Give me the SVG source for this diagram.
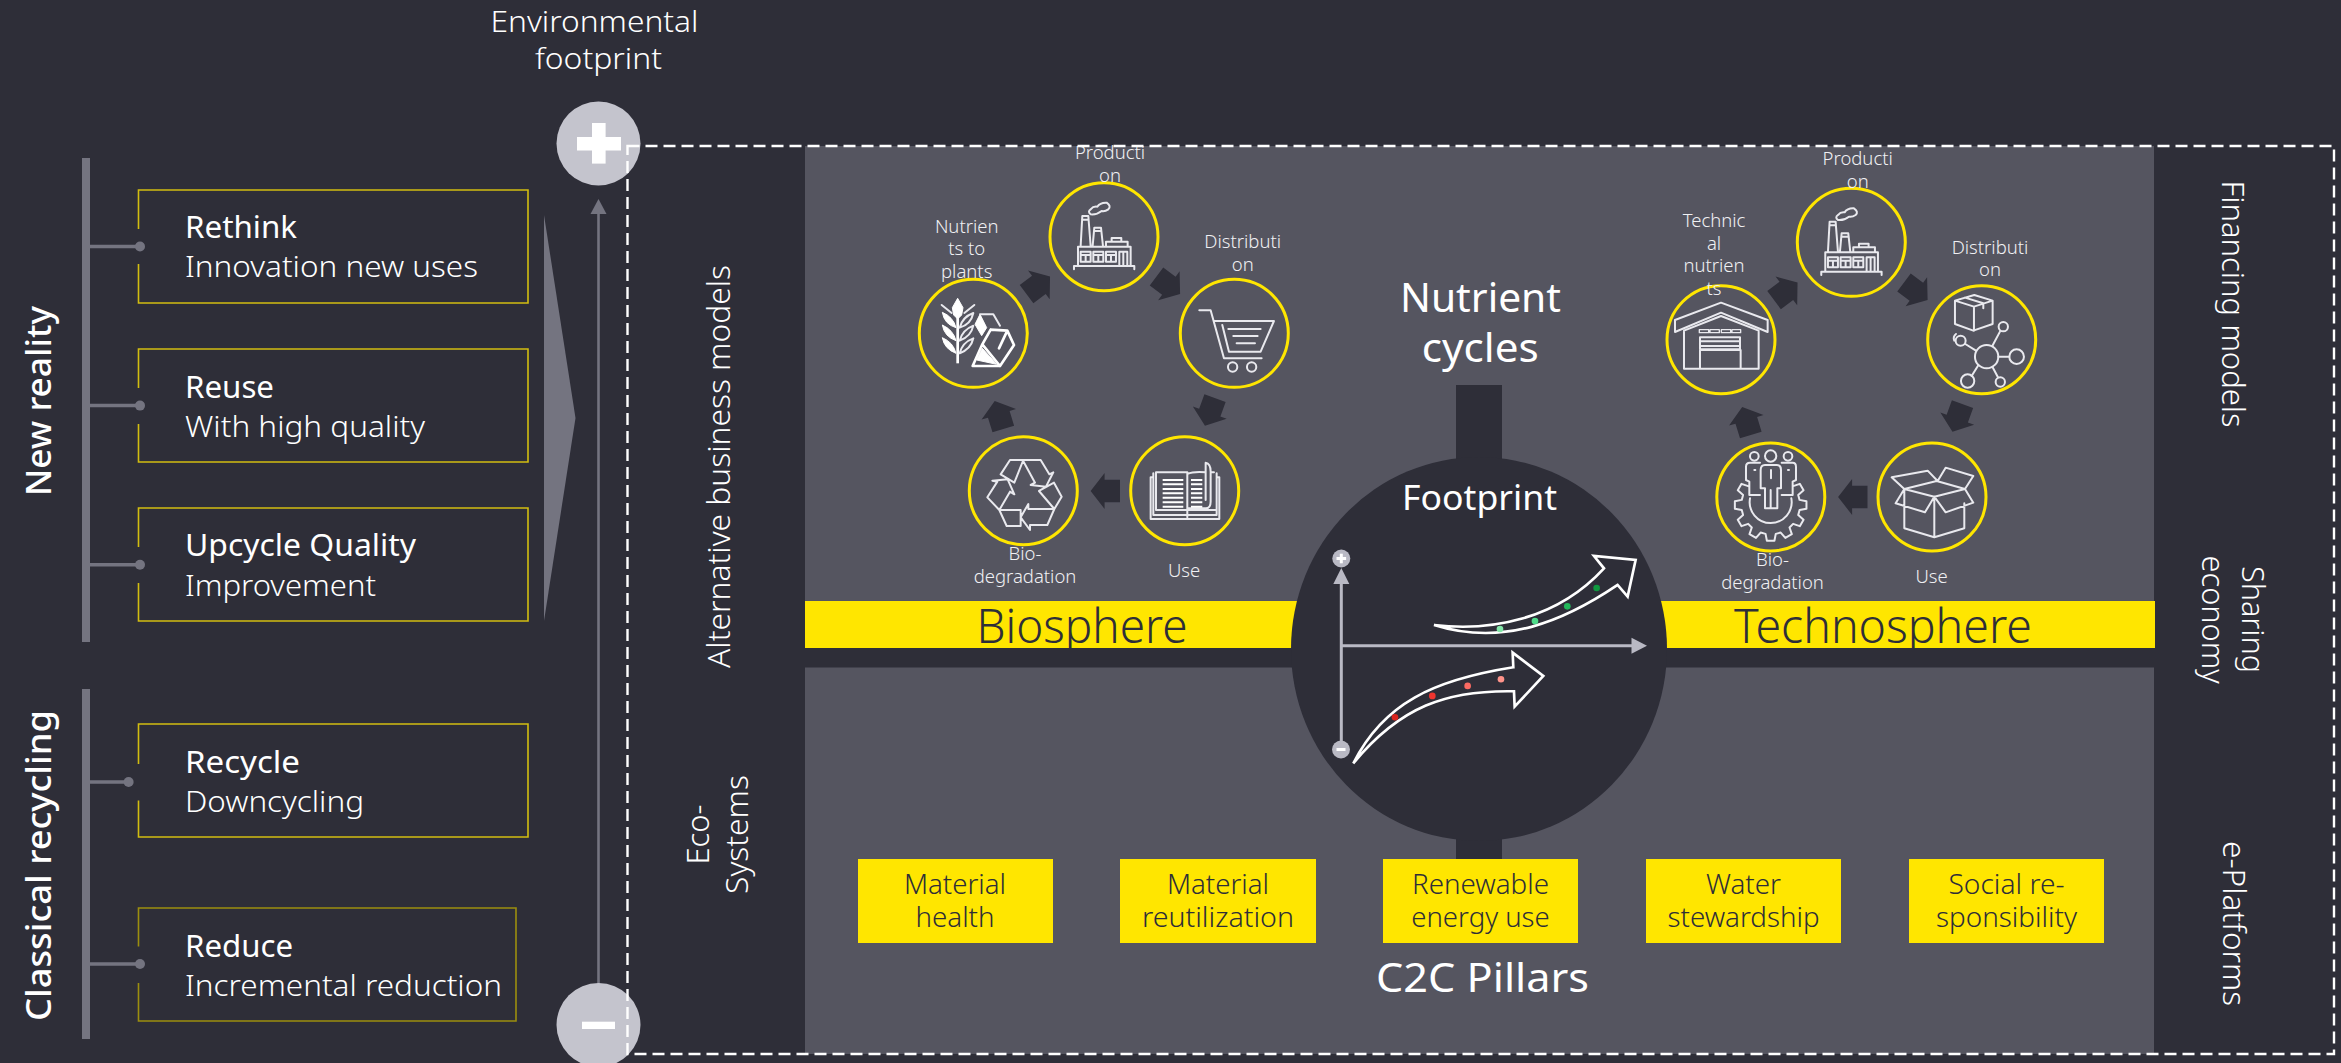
<svg xmlns="http://www.w3.org/2000/svg" xmlns:xlink="http://www.w3.org/1999/xlink" width="2341" height="1063" viewBox="0 0 2341 1063">
<style>
text{font-family:"Noto Sans","Open Sans","DejaVu Sans",sans-serif;fill:#fff}
.l{font-size:30px;font-weight:300}
.m{font-size:30px;font-weight:400}
.c{font-size:18.5px;fill:#f0f0f3;text-anchor:middle;font-weight:300}
.p{font-size:27px;fill:#2e2e38;text-anchor:middle;font-weight:300}
.r{font-size:32px;font-weight:300}
.side{font-size:35px;font-weight:500}
.h{font-weight:400}
.box{fill:none;stroke:#d2bd10;stroke-width:1.6}
.ring{fill:none;stroke:#ffe600;stroke-width:3}
.ic{fill:none;stroke:#e9e9ee;stroke-width:6;stroke-linejoin:round;stroke-linecap:round}
.icf{fill:#fff;stroke:#fff;stroke-width:3}
.bar{fill:#747480}
.branch{stroke:#747480;stroke-width:3.5}
.cy{fill:#2e2e38}
.ax{stroke:#b9b9c4;stroke-width:3;fill:none}
.axh{fill:#b9b9c4}
.trend{fill:none;stroke:#fff;stroke-width:8;stroke-linejoin:miter}
</style>
<defs>
<polygon id="ca" points="-14.7,0 -0.7,-18 -0.7,-11.3 14.7,-11.3 14.7,11.3 -0.7,11.3 -0.7,18"/>
<g id="factory" class="ic">
<path d="M602,348 L607,258 H625 L632,348 M606,269 H626 M638,348 L643,293 H663 L669,348 M643,303 H663 M678,348 V335 H743 V348 M695,335 V324 H724 V335 M594,408 V350 H752 V408 M602,395 V365 H632 V395 H602 M602,375 H632 M617,375 V395 M640,395 V365 H670 V395 H640 M640,375 H670 M655,375 V395 M678,395 V365 H708 V395 H678 M678,375 H708 M693,375 V395 M718,405 V365 H742 V405 M730,365 V405 M582,418 V408 H763 V418"/>
<path d="M632,253 Q622,245 632,238 Q640,228 652,230 Q660,217 680,218 Q695,228 685,238 Q675,245 665,243 Q650,255 632,253Z"/>
</g>
</defs>
<rect width="2341" height="1063" fill="#2e2e38"/>

<g id="panels">
<rect x="805" y="146" width="1349" height="502" fill="#555560"/>
<rect x="805" y="667.5" width="1349" height="386.5" fill="#555560"/>
</g>
<g id="band-biosphere"><rect x="805" y="601" width="500" height="47" fill="#ffe600"/><text x="976.5" y="643" font-size="48" style="fill:#2e2e38;font-weight:300" textLength="211" lengthAdjust="spacingAndGlyphs">Biosphere</text></g>
<g id="band-technosphere"><rect x="1650" y="601" width="505" height="47" fill="#ffe600"/><text x="1734" y="643" font-size="48" style="fill:#2e2e38;font-weight:300" textLength="298" lengthAdjust="spacingAndGlyphs">Technosphere</text></g>

<g id="footprint">
<rect x="1456" y="385" width="46" height="100" fill="#2e2e38"/>
<rect x="1456" y="800" width="46" height="59" fill="#2e2e38"/>
<ellipse cx="1479" cy="649" rx="188" ry="192" fill="#2e2e38"/>
<text class="h" x="1402" y="510" font-size="35" textLength="155" lengthAdjust="spacingAndGlyphs">Footprint</text>
<path class="ax" d="M1341.3,583 V741 M1341.3,645.7 H1632"/>
<polygon class="axh" points="1341.3,568 1349.3,584 1333.3,584"/>
<polygon class="axh" points="1647,645.7 1631.5,637.7 1631.5,653.7"/>
<circle class="axh" cx="1341.3" cy="558.5" r="9"/>
<rect x="1336.5" y="557" width="9.6" height="3" fill="#fff"/><rect x="1339.8" y="553.7" width="3" height="9.6" fill="#fff"/>
<circle class="axh" cx="1341" cy="749.5" r="9"/>
<rect x="1336.5" y="748" width="9" height="3" fill="#fff"/>
<g transform="translate(1270,260) scale(.3333)">
<path class="trend" d="M492,1095 C660,1115 860,1080 1002,925 L972,888 L1097,900 L1073,1010 L1043,975 C880,1085 700,1160 492,1095 Z"/>
<path class="trend" d="M250,1510 C340,1330 490,1260 730,1222 L728,1178 L820,1248 L734,1340 L732,1294 C530,1290 390,1340 250,1510 Z"/>
<circle cx="690" cy="1107" r="10" fill="#83e8a9"/><circle cx="795" cy="1083" r="10" fill="#4fdc8a"/><circle cx="892" cy="1039" r="10" fill="#23b85a"/><circle cx="980" cy="984" r="10" fill="#10993f"/>
<circle cx="375" cy="1372" r="10" fill="#d9241e"/><circle cx="487" cy="1308" r="10" fill="#f0352f"/><circle cx="593" cy="1278" r="10" fill="#fa6a62"/><circle cx="693" cy="1258" r="10" fill="#ff938a"/>
</g>
</g>

<g id="connectors">
<path class="branch" d="M90,246.5 H136 M90,405.6 H136 M90,564.7 H136 M90,782 H124 M90,964 H136"/>
<circle class="bar" cx="140" cy="246.5" r="5"/><circle class="bar" cx="140" cy="405.6" r="5"/><circle class="bar" cx="140" cy="564.7" r="5"/><circle class="bar" cx="128.6" cy="782" r="5"/><circle class="bar" cx="140" cy="964" r="5"/>
<path d="M598.5,210 V990" stroke="#747480" stroke-width="2.6"/>
<polygon class="bar" points="598.5,199 606.5,214 590.5,214"/>
<polygon class="bar" points="544,215 575.5,418 544,621"/>
<g class="cy">
<use xlink:href="#ca" href="#ca" transform="translate(1105.3,491)"/>
<use xlink:href="#ca" href="#ca" transform="translate(999,415) rotate(73)"/>
<use xlink:href="#ca" href="#ca" transform="translate(1038.3,285.3) rotate(143)"/>
<use xlink:href="#ca" href="#ca" transform="translate(1168.3,285.3) rotate(-143.4)"/>
<use xlink:href="#ca" href="#ca" transform="translate(1210,412) rotate(-70)"/>
<use xlink:href="#ca" href="#ca" transform="translate(1852.8,497)"/>
<use xlink:href="#ca" href="#ca" transform="translate(1746.5,421) rotate(73)"/>
<use xlink:href="#ca" href="#ca" transform="translate(1785.8,291.3) rotate(143)"/>
<use xlink:href="#ca" href="#ca" transform="translate(1915.8,291.3) rotate(-143.4)"/>
<use xlink:href="#ca" href="#ca" transform="translate(1957.5,418) rotate(-70)"/>
</g>
</g>

<g id="bar-new-reality"><rect class="bar" x="82" y="158" width="8" height="484"/><text class="side" transform="translate(51,496) rotate(-90)" textLength="190" lengthAdjust="spacingAndGlyphs">New reality</text></g>
<g id="bar-classical"><rect class="bar" x="82" y="689" width="8" height="350"/><text class="side" transform="translate(51,1021) rotate(-90)" textLength="311" lengthAdjust="spacingAndGlyphs">Classical recycling</text></g>

<g id="rethink"><path class="box" d="M138.5,229 V190 H528 V303 H138.5 V264"/><text class="m" x="185" y="238" textLength="112" lengthAdjust="spacingAndGlyphs">Rethink</text><text class="l" x="185" y="277" textLength="293" lengthAdjust="spacingAndGlyphs">Innovation new uses</text></g>
<g id="reuse"><path class="box" d="M138.5,388 V349 H528 V462 H138.5 V424"/><text class="m" x="185" y="397.7" textLength="89" lengthAdjust="spacingAndGlyphs">Reuse</text><text class="l" x="185" y="436.6" textLength="240" lengthAdjust="spacingAndGlyphs">With high quality</text></g>
<g id="upcycle"><path class="box" d="M138.5,547 V508 H528 V621 H138.5 V583"/><text class="m" x="185" y="556.4" textLength="231" lengthAdjust="spacingAndGlyphs">Upcycle Quality</text><text class="l" x="185" y="595.5" textLength="191" lengthAdjust="spacingAndGlyphs">Improvement</text></g>
<g id="recycle"><path class="box" d="M138.5,764 V724 H528 V837 H138.5 V800.5"/><text class="m" x="185" y="772.8" textLength="115" lengthAdjust="spacingAndGlyphs">Recycle</text><text class="l" x="185" y="812" textLength="179" lengthAdjust="spacingAndGlyphs">Downcycling</text></g>
<g id="reduce"><path class="box" style="stroke:#9c8e0e" d="M138.5,946.6 V908 H516 V1021 H138.5 V983"/><text class="m" x="185" y="957" textLength="108" lengthAdjust="spacingAndGlyphs">Reduce</text><text class="l" x="185" y="996" textLength="317" lengthAdjust="spacingAndGlyphs">Incremental reduction</text></g>

<g id="environmental-footprint"><text class="l" x="490.5" y="31.7" textLength="208" lengthAdjust="spacingAndGlyphs">Environmental</text><text class="l" x="535" y="69" textLength="127" lengthAdjust="spacingAndGlyphs">footprint</text></g>
<g id="plus"><circle cx="598.5" cy="143.5" r="42" fill="#c4c4cd"/><rect x="577" y="137" width="44" height="13.5" fill="#fff"/><rect x="592" y="123" width="13.6" height="40.6" fill="#fff"/></g>
<g id="minus"><circle cx="598.5" cy="1025" r="42" fill="#c4c4cd"/><rect x="582" y="1021.7" width="33" height="7.3" fill="#fff"/></g>

<g id="side-left"><text class="r" transform="translate(729.6,668) rotate(-90)" textLength="403" lengthAdjust="spacingAndGlyphs">Alternative business models</text>
<text class="r" transform="translate(709,864.5) rotate(-90)" textLength="60" lengthAdjust="spacingAndGlyphs">Eco-</text><text class="r" transform="translate(747.5,894) rotate(-90)" textLength="119" lengthAdjust="spacingAndGlyphs">Systems</text></g>
<g id="side-right"><text class="r" transform="translate(2221.7,180.6) rotate(90)" textLength="247" lengthAdjust="spacingAndGlyphs">Financing models</text>
<text class="r" transform="translate(2241.7,566) rotate(90)" textLength="107" lengthAdjust="spacingAndGlyphs">Sharing</text><text class="r" transform="translate(2202,555.6) rotate(90)" textLength="128" lengthAdjust="spacingAndGlyphs">economy</text>
<text class="r" transform="translate(2223,841) rotate(90)" textLength="165" lengthAdjust="spacingAndGlyphs">e-Platforms</text></g>

<g id="nutrient-cycles"><text class="h" x="1400" y="311.7" font-size="40" textLength="161" lengthAdjust="spacingAndGlyphs">Nutrient</text><text class="h" x="1421.7" y="361.7" font-size="40" textLength="117" lengthAdjust="spacingAndGlyphs">cycles</text></g>

<g id="bio-nutrients"><circle class="ring" cx="973.3" cy="333.3" r="54"/><text class="c" x="966.7" y="233.3">Nutrien</text><text class="c" x="966.7" y="255">ts to</text><text class="c" x="966.7" y="277.7">plants</text>
<g transform="translate(925,285) scale(.3333)">
<path d="M98,70 V235" stroke="#fff" stroke-width="8" fill="none"/>
<path class="icf" d="M98,40 L82,68 L86,90 L98,102 L110,90 L114,68Z M52,82 Q58,118 93,128 Q85,96 52,82Z M52,120 Q58,155 93,167 Q85,135 52,120Z M52,158 Q58,192 93,205 Q85,172 52,158Z"/>
<path class="ic" d="M50,60 L80,84 M148,60 L118,84 M145,84 Q138,118 104,128 Q112,96 145,84Z M145,122 Q138,155 104,167 Q112,135 145,122Z M145,160 Q138,192 104,205 Q112,172 145,160Z"/>
<path class="icf" d="M165,88 L150,118 L170,152 L185,128Z"/>
<path class="ic" d="M165,88 H205 L225,122"/>
<path class="ic" style="stroke-width:8;stroke:#fff" d="M143,243 L172,178 L197,134 L247,137 L267,180 L225,243Z M197,134 L172,178 L225,243 M247,137 L222,190"/>
<path class="icf" d="M155,225 L172,190 L215,238Z"/>
</g></g>
<g id="bio-production"><circle class="ring" cx="1104" cy="236.7" r="54"/><text class="c" x="1110" y="159.3">Producti</text><text class="c" x="1110" y="182.3">on</text>
<use xlink:href="#factory" href="#factory" transform="translate(880,130) scale(.3333)"/></g>
<g id="bio-distribution"><circle class="ring" cx="1234.3" cy="333.3" r="54"/><text class="c" x="1242.7" y="248.3">Distributi</text><text class="c" x="1242.7" y="271">on</text>
<g transform="translate(880,130) scale(.3333)"><path class="ic" d="M958,541 H992 L1032,685 H1145 M1002,573 H1182 L1142,665 H1047 L1027,585 M1045,597 H1142 M1060,618 H1133 M1070,640 H1125"/><circle class="ic" cx="1058" cy="711" r="14"/><circle class="ic" cx="1115" cy="711" r="14"/></g></g>
<g id="bio-use"><circle class="ring" cx="1184.7" cy="490.7" r="54"/><text class="c" x="1184" y="576.7">Use</text>
<g transform="translate(960,440) scale(.3333)"><path class="ic" d="M572,112 V237 H778 V112 H770 M572,112 H580 M580,100 V225 H770 V100 M590,210 H770 M588,210 V97 H682 V232 M682,102 Q700,94 737,97 M752,97 H762 M737,180 V68 Q752,70 752,95 V185 Q752,205 737,205 H682"/>
<path d="M608,120 H670 M608,133 H670 M608,147 H670 M608,160 H670 M608,173 H670 M608,187 H670 M608,200 H670 M693,120 H727 M693,133 H727 M693,147 H727 M693,160 H727 M693,173 H727 M693,187 H727 M693,200 H727" stroke="#fff" stroke-width="6" fill="none"/></g></g>
<g id="bio-degradation"><circle class="ring" cx="1023.3" cy="490.7" r="54"/><text class="c" x="1025" y="560">Bio-</text><text class="c" x="1025" y="582.7">degradation</text>
<g transform="translate(960,440) scale(.3333)"><path class="ic" d="M122,103 L150,60 H190 L163,128Z M188,60 H242 L268,103 L280,97 L258,140 L212,135 L225,128Z M237,153 L282,128 L305,170 L283,207Z M283,207 L262,255 H210 V270 L182,232 L205,192 V207Z M118,210 H182 V258 H140Z M118,210 L82,172 L112,125 L97,122 L143,118 L163,163 L150,155Z"/></g></g>

<g id="tech-nutrients"><circle class="ring" cx="1721" cy="339.7" r="54"/><text class="c" x="1714" y="226.7">Technic</text><text class="c" x="1714" y="250">al</text><text class="c" x="1714" y="272.3">nutrien</text><text class="c" x="1714" y="295">ts</text>
<g transform="translate(1620,130) scale(.3333)"><path class="ic" d="M165,570 L303,518 L443,570 V606 L303,548 L165,606Z M192,604 V716 H416 V604 M192,602 L303,558 L416,602 M240,716 V660 H362 V716 M240,622 H360 V658 H240Z M240,634 H360 M240,648 H360"/><path class="ic" style="stroke-width:4" d="M238,599 H266 V608 H238Z M270,599 H298 V608 H270Z M304,599 H332 V608 H304Z M336,599 H362 V608 H336Z"/></g></g>
<g id="tech-production"><circle class="ring" cx="1851.3" cy="242.3" r="54"/><text class="c" x="1857.7" y="165">Producti</text><text class="c" x="1857.7" y="188.3">on</text>
<use xlink:href="#factory" href="#factory" transform="translate(1627.3,135.7) scale(.3333)"/></g>
<g id="tech-distribution"><circle class="ring" cx="1981.7" cy="339.7" r="54"/><text class="c" x="1990" y="254">Distributi</text><text class="c" x="1990" y="276">on</text>
<g transform="translate(1620,130) scale(.3333)" class="ic"><path d="M1005,512 L1063,495 L1118,512 L1062,530Z M1005,512 V582 L1060,602 L1118,582 V512 M1062,530 V602 M1035,503 L1090,520 V535 M1117,648 L1140,605 M1135,680 H1168 M1118,712 L1134,742 M1075,706 L1055,738 M1068,662 L1036,642 M1008,612 Q998,620 1003,632"/><circle cx="1100" cy="680" r="35"/><circle cx="1150" cy="590" r="14"/><circle cx="1190" cy="680" r="22"/><circle cx="1141" cy="756" r="14"/><circle cx="1043" cy="753" r="20"/><circle cx="1022" cy="632" r="15"/></g></g>
<g id="tech-use"><circle class="ring" cx="1932" cy="497" r="54"/><text class="c" x="1931.5" y="582.7">Use</text>
<g transform="translate(1700,420) scale(.3333)"><path class="ic" d="M613,210 V325 L703,352 L793,325 V250 M703,352 V230 M613,207 L710,183 L795,207 L703,230Z M613,207 L587,250 L675,277 L703,230 L737,277 L820,248 L795,207 M613,207 L575,172 L683,152 L713,183 L737,143 L820,168 L795,207"/></g></g>
<g id="tech-degradation"><circle class="ring" cx="1770.8" cy="497" r="54"/><text class="c" x="1772.5" y="566">Bio-</text><text class="c" x="1772.5" y="588.7">degradation</text>
<g transform="translate(1700,420) scale(.3333)" class="ic"><path d="M144.6,198.4 L124.6,191.5 L113.3,211 L129.3,224.9 L125.3,239.7 L104.6,243.7 L104.6,266.3 L125.3,270.3 L129.3,285.1 L113.3,299 L124.6,318.5 L144.6,311.6 L155.4,322.4 L148.5,342.4 L168,353.7 L181.9,337.7 L196.7,341.7 L200.7,362.4 L223.3,362.4 L227.3,341.7 L242.1,337.7 L256,353.7 L275.5,342.4 L268.6,322.4 L279.4,311.6 L299.4,318.5 L310.7,299 L294.7,285.1 L298.7,270.3 L319.4,266.3 L319.4,243.7 L298.7,239.7 L294.7,224.9 L310.7,211 L299.4,191.5 L279.4,198.4 M150,235 A63,63 0 1 0 274,235 M180,128 H150 Q138,128 138,140 V180 L148,185 V225 H180 M245,128 H278 Q288,128 288,140 V180 L278,185 V225 H245 M182,205 V150 Q182,135 195,135 H230 Q243,135 243,150 V205 H232 V265 H195 V205Z M212,210 V265 M163,150 H166 M264,150 H267 M213,150 V175"/><circle cx="163" cy="109" r="13"/><circle cx="212" cy="108" r="17"/><circle cx="264" cy="109" r="13"/></g></g>

<g id="pillar-1"><rect x="858" y="859" width="195" height="84" fill="#ffe600"/><text class="p" style="fill:#2e2e38" x="955" y="894" textLength="102" lengthAdjust="spacingAndGlyphs">Material</text><text class="p" style="fill:#2e2e38" x="955" y="927.3" textLength="79" lengthAdjust="spacingAndGlyphs">health</text></g>
<g id="pillar-2"><rect x="1120" y="859" width="196" height="84" fill="#ffe600"/><text class="p" style="fill:#2e2e38" x="1218" y="894" textLength="102" lengthAdjust="spacingAndGlyphs">Material</text><text class="p" style="fill:#2e2e38" x="1218" y="927.3" textLength="152" lengthAdjust="spacingAndGlyphs">reutilization</text></g>
<g id="pillar-3"><rect x="1383" y="859" width="195" height="84" fill="#ffe600"/><text class="p" style="fill:#2e2e38" x="1480.5" y="894" textLength="137" lengthAdjust="spacingAndGlyphs">Renewable</text><text class="p" style="fill:#2e2e38" x="1480.5" y="927.3" textLength="138.5" lengthAdjust="spacingAndGlyphs">energy use</text></g>
<g id="pillar-4"><rect x="1646" y="859" width="195" height="84" fill="#ffe600"/><text class="p" style="fill:#2e2e38" x="1743.5" y="894" textLength="75" lengthAdjust="spacingAndGlyphs">Water</text><text class="p" style="fill:#2e2e38" x="1743.5" y="927.3" textLength="152" lengthAdjust="spacingAndGlyphs">stewardship</text></g>
<g id="pillar-5"><rect x="1909" y="859" width="195" height="84" fill="#ffe600"/><text class="p" style="fill:#2e2e38" x="2006.5" y="894" textLength="116" lengthAdjust="spacingAndGlyphs">Social re-</text><text class="p" style="fill:#2e2e38" x="2006.5" y="927.3" textLength="141" lengthAdjust="spacingAndGlyphs">sponsibility</text></g>
<g id="c2c-pillars"><text class="h" x="1376" y="991.7" font-size="40" textLength="213" lengthAdjust="spacingAndGlyphs">C2C Pillars</text></g>

<rect id="frame" x="627.5" y="146" width="1706.5" height="908" fill="none" stroke="#fff" stroke-width="2.4" stroke-dasharray="12 6"/>
</svg>
